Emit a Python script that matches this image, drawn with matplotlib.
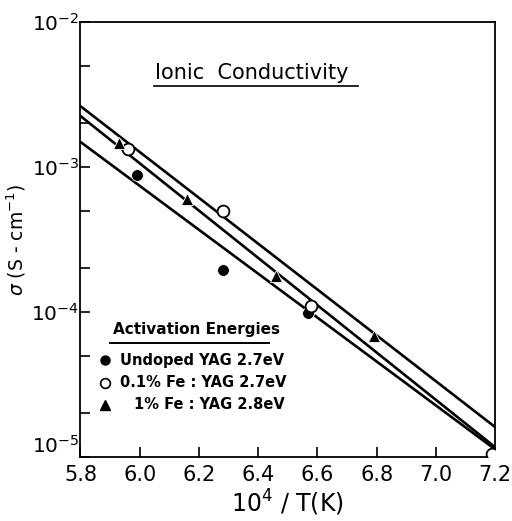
import numpy as np
import matplotlib.pyplot as plt
from matplotlib.ticker import LogLocator, NullFormatter, FixedLocator

plt.rcParams['font.family'] = ['DejaVu Sans']

# measured conductivities, 10^4/T (K) vs sigma (S/cm)
undoped_x = [5.99, 6.28, 6.57]
undoped_y = [8.8e-4, 1.95e-4, 9.8e-5]
fe01_x = [5.96, 6.28, 6.58, 7.19]
fe01_y = [1.33e-3, 5.0e-4, 1.1e-4, 1.05e-5]
fe1_x = [5.93, 6.16, 6.46, 6.79]
fe1_y = [1.47e-3, 6.0e-4, 1.77e-4, 6.8e-5]

# Arrhenius fit lines (end points)
fit_x = [5.8, 7.2]
fit_fe1 = [2.63e-3, 1.61e-5]
fit_fe01 = [2.25e-3, 1.17e-5]
fit_undoped = [1.49e-3, 1.13e-5]

legend_labels = ['Undoped YAG 2.7eV', '0.1% Fe : YAG 2.7eV', '1% Fe : YAG 2.8eV']
xticks = [5.8, 6.0, 6.2, 6.4, 6.6, 6.8, 7.0, 7.2]

fig = plt.figure(figsize=(5.12, 5.21), dpi=100)
ax = fig.add_axes([0.157, 0.1228, 0.81, 0.835])

for fy in (fit_fe1, fit_fe01, fit_undoped):
    ax.plot(fit_x, fy, color='black', lw=1.9, solid_capstyle='butt', zorder=2)

ax.plot(undoped_x, undoped_y, 'o', color='black', ms=8.5, mec='white', mew=0.6, zorder=3)
ax.plot(fe01_x, fe01_y, 'o', mfc='white', mec='black', ms=8.5, mew=1.3, zorder=3)
ax.plot(fe1_x, fe1_y, '^', color='black', ms=9, mec='white', mew=0.6, zorder=3)

ax.set_yscale('log')
ax.set_xlim(5.8, 7.2)
ax.set_ylim(1e-5, 1e-2)

ax.xaxis.set_major_locator(FixedLocator(xticks))
ax.set_xticklabels([f'{t:.1f}' for t in xticks])
ax.yaxis.set_major_locator(FixedLocator([1e-5, 1e-4, 1e-3, 1e-2]))
ax.set_yticklabels([r'$10^{-5}$', r'$10^{-4}$', r'$10^{-3}$', r'$10^{-2}$'])
ax.get_yticklabels()[0].set_va('bottom')
ax.yaxis.set_minor_locator(LogLocator(base=10, subs=(2.0, 5.0)))
ax.yaxis.set_minor_formatter(NullFormatter())

ax.tick_params(axis='x', which='major', direction='in', length=7, width=1.2,
               labelsize=15, pad=6)
ax.tick_params(axis='y', which='major', direction='in', length=7, width=1.2,
               labelsize=14.5, pad=1)
ax.tick_params(axis='y', which='minor', direction='in', length=7, width=1.2)
ax.tick_params(axis='x', which='minor', bottom=False)
for s in ax.spines.values():
    s.set_linewidth(1.3)

ax.set_xlabel(r'$10^4$ / T(K)', fontsize=17, labelpad=2)
ax.set_ylabel(r'$\sigma$ (S - cm$^{-1}$)', fontsize=13.5, labelpad=2)

# title with underline
ax.text(0.413, 0.86, 'Ionic  Conductivity', transform=ax.transAxes,
        fontsize=15, ha='center', va='bottom')
ax.plot([0.178, 0.67], [0.852, 0.852], transform=ax.transAxes,
        color='black', lw=1.2)

# legend block
ax.text(0.078, 0.275, 'Activation Energies', transform=ax.transAxes,
        fontsize=11, fontweight='bold', ha='left', va='bottom')
ax.plot([0.072, 0.455], [0.262, 0.262], transform=ax.transAxes,
        color='black', lw=1.4)
markers = [dict(marker='o', color='black', ms=6.5),
           dict(marker='o', mfc='white', mec='black', ms=7, mew=1.2),
           dict(marker='^', color='black', ms=7)]
for i, (lab, mk) in enumerate(zip(legend_labels, markers)):
    yy = 0.222 - i * 0.051
    ax.plot([0.06], [yy], transform=ax.transAxes, ls='none', **mk)
    ax.text(0.095 if i < 2 else 0.13, yy, lab, transform=ax.transAxes,
            fontsize=10.5, fontweight='bold', ha='left', va='center')

fig.savefig('out.png', dpi=100)
